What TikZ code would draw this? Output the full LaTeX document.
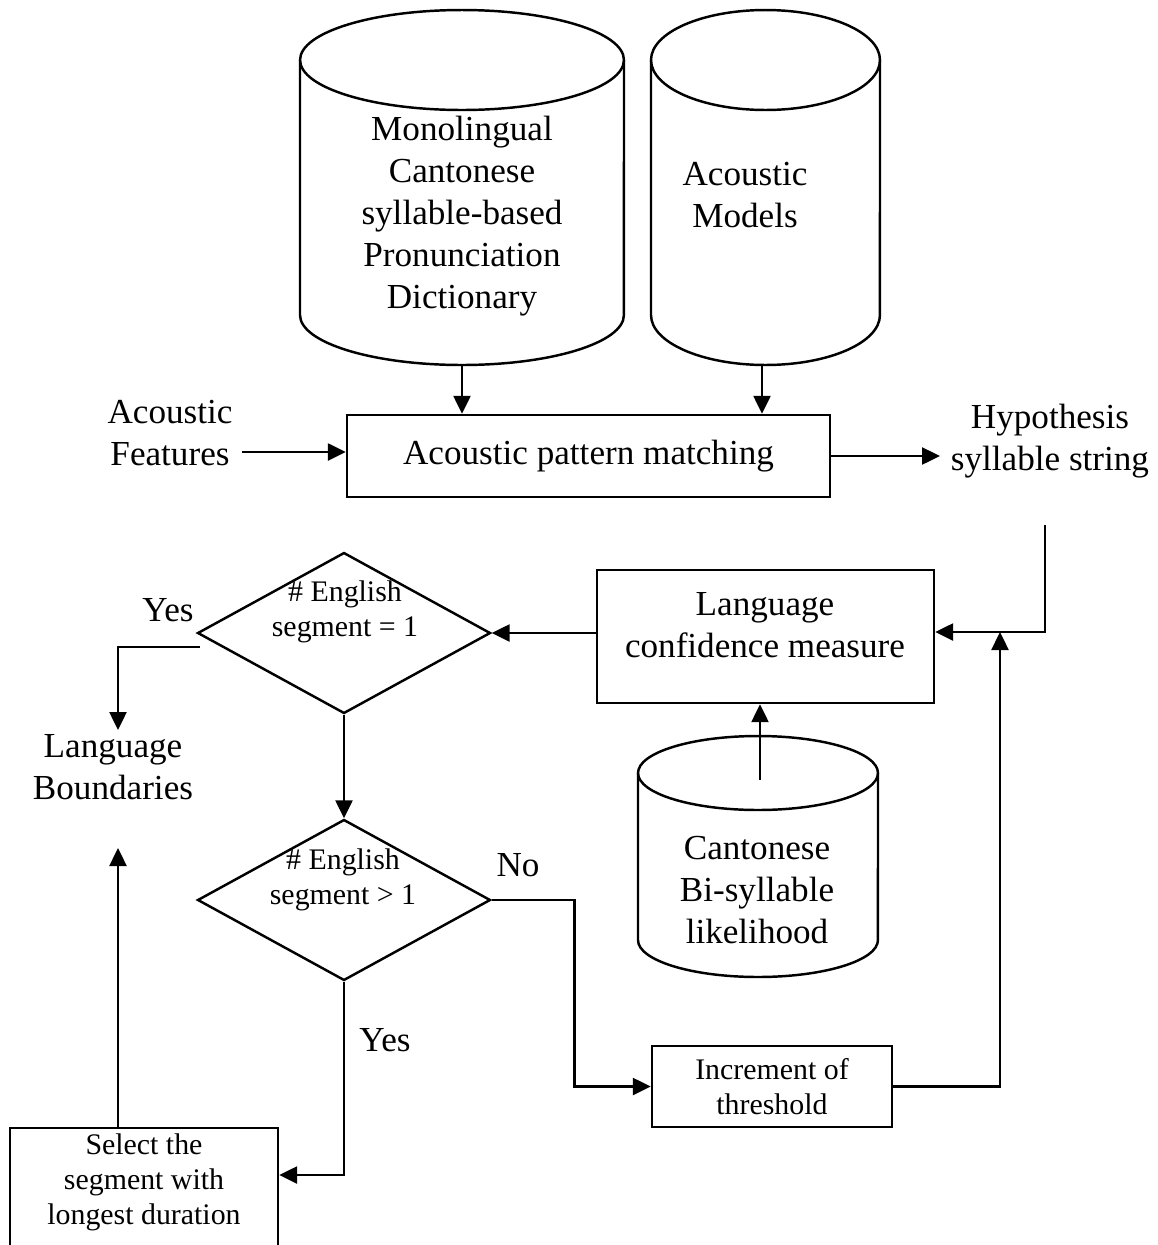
\documentclass[tikz,border=0pt]{standalone}
\usepackage{fontspec}
\setmainfont{Liberation Serif}
\usetikzlibrary{shapes.geometric,arrows.meta}
\begin{document}
\begin{tikzpicture}[x=0.02cm,y=-0.02cm,
  line width=1.4pt,
  big/.style={font=\fontsize{20}{23.8}\selectfont, align=center, inner sep=0},
  small/.style={font=\fontsize{17}{19.9}\selectfont, align=center, inner sep=0},
  box/.style={draw, inner sep=0},
  arr/.style={-{Triangle[length=0.36cm,width=0.34cm]}},
  dec/.style={draw, diamond, inner sep=0, minimum width=5.86cm, minimum height=3.22cm},
]
\clip (0,0) rectangle (1158,1245);
\fill[white] (0,0) rectangle (1158,1245);

% databases
\draw (300,60) -- (300,315) arc[start angle=180,end angle=360,x radius=3.24cm,y radius=1cm] -- (624,60);
\draw (462,60) ellipse[x radius=3.24cm,y radius=1cm];
\node[big] (dict) at (462,216) {Monolingual\\Cantonese\\syllable-based\\Pronunciation\\Dictionary};
\coordinate (dictb) at (462,365);

\draw (651,60) -- (651,315) arc[start angle=180,end angle=360,x radius=2.29cm,y radius=1cm] -- (880,60);
\draw (765.5,60) ellipse[x radius=2.29cm,y radius=1cm];
\node[big] (am) at (745,195) {Acoustic\\Models};
\coordinate (amb) at (762,365);

\draw (638,773) -- (638,940) arc[start angle=180,end angle=360,x radius=2.4cm,y radius=0.74cm] -- (878,773);
\draw (758,773) ellipse[x radius=2.4cm,y radius=0.74cm];
\node[big] (bisyl) at (757,890) {Cantonese\\Bi-syllable\\likelihood};
\coordinate (bit) at (760,780);

% processing blocks
\node[big] (feat) at (170,433) {Acoustic\\Features};
\coordinate (fa) at (242,452);
\node[box, big, minimum width=9.66cm, minimum height=1.64cm] (match) at (588.5,456) {Acoustic pattern matching};
\node[big] (hyp) at (1050,441) {Hypothesis\\syllable string};
\coordinate (ha) at (940,456);
\coordinate (hs) at (1045,525);

\node[box, minimum width=6.74cm, minimum height=2.66cm] (lcm) at (765.5,636.5) {};
\node[big] (lcmt) at (765,625) {Language\\confidence measure};

\node[box, small, minimum width=4.8cm, minimum height=1.62cm] (inc) at (772,1086.5) {Increment of\\threshold};
\coordinate (join) at (1000,632);

\node[dec] (d1) at (344,633) {};
\node[small] (d1t) at (345,612) {\# English\\segment = 1};
\node[dec] (d2) at (344,900) {};
\node[small] (d2t) at (343,880) {\# English\\segment > 1};

\node[big] (lb) at (113,767) {Language\\Boundaries};
\coordinate (lbtop) at (118,730);
\coordinate (lbbot) at (118,848);
\coordinate (yy) at (200,647);

\node[box, minimum width=5.36cm, minimum height=2.68cm] (sel) at (144,1195) {};
\node[small] (selt) at (144,1182) {Select the\\segment with\\longest duration};
\coordinate (k) at (344,1175);

\node[big] (yes1) at (168,610) {Yes};
\node[big] (no) at (518,865) {No};
\node[big] (yes2) at (385,1040) {Yes};

% connectors
\draw[arr] (dictb) -- (dictb |- match.north);
\draw[arr] (amb) -- (amb |- match.north);
\draw[arr] (fa) -- (fa -| match.west);
\draw[arr] (match.east) -- (ha);
\draw[arr] (hs) |- ([yshift=0.09cm]lcm.east);
\draw[arr] (bit) -- (bit |- lcm.south);
\draw[arr] (inc.east) -| (join);
\draw[arr] (lcm.west |- d1.east) -- (d1.east);
\draw[arr] (yy) -| (lbtop);
\draw[arr] (d1.south) -- (d2.north);
\draw[arr] (d2.east) -- ++(83,0) |- (inc.west);
\draw[arr] (d2.south) |- (k -| sel.east);
\draw[arr] (sel.north -| lbbot) -- (lbbot);
\end{tikzpicture}
\end{document}
